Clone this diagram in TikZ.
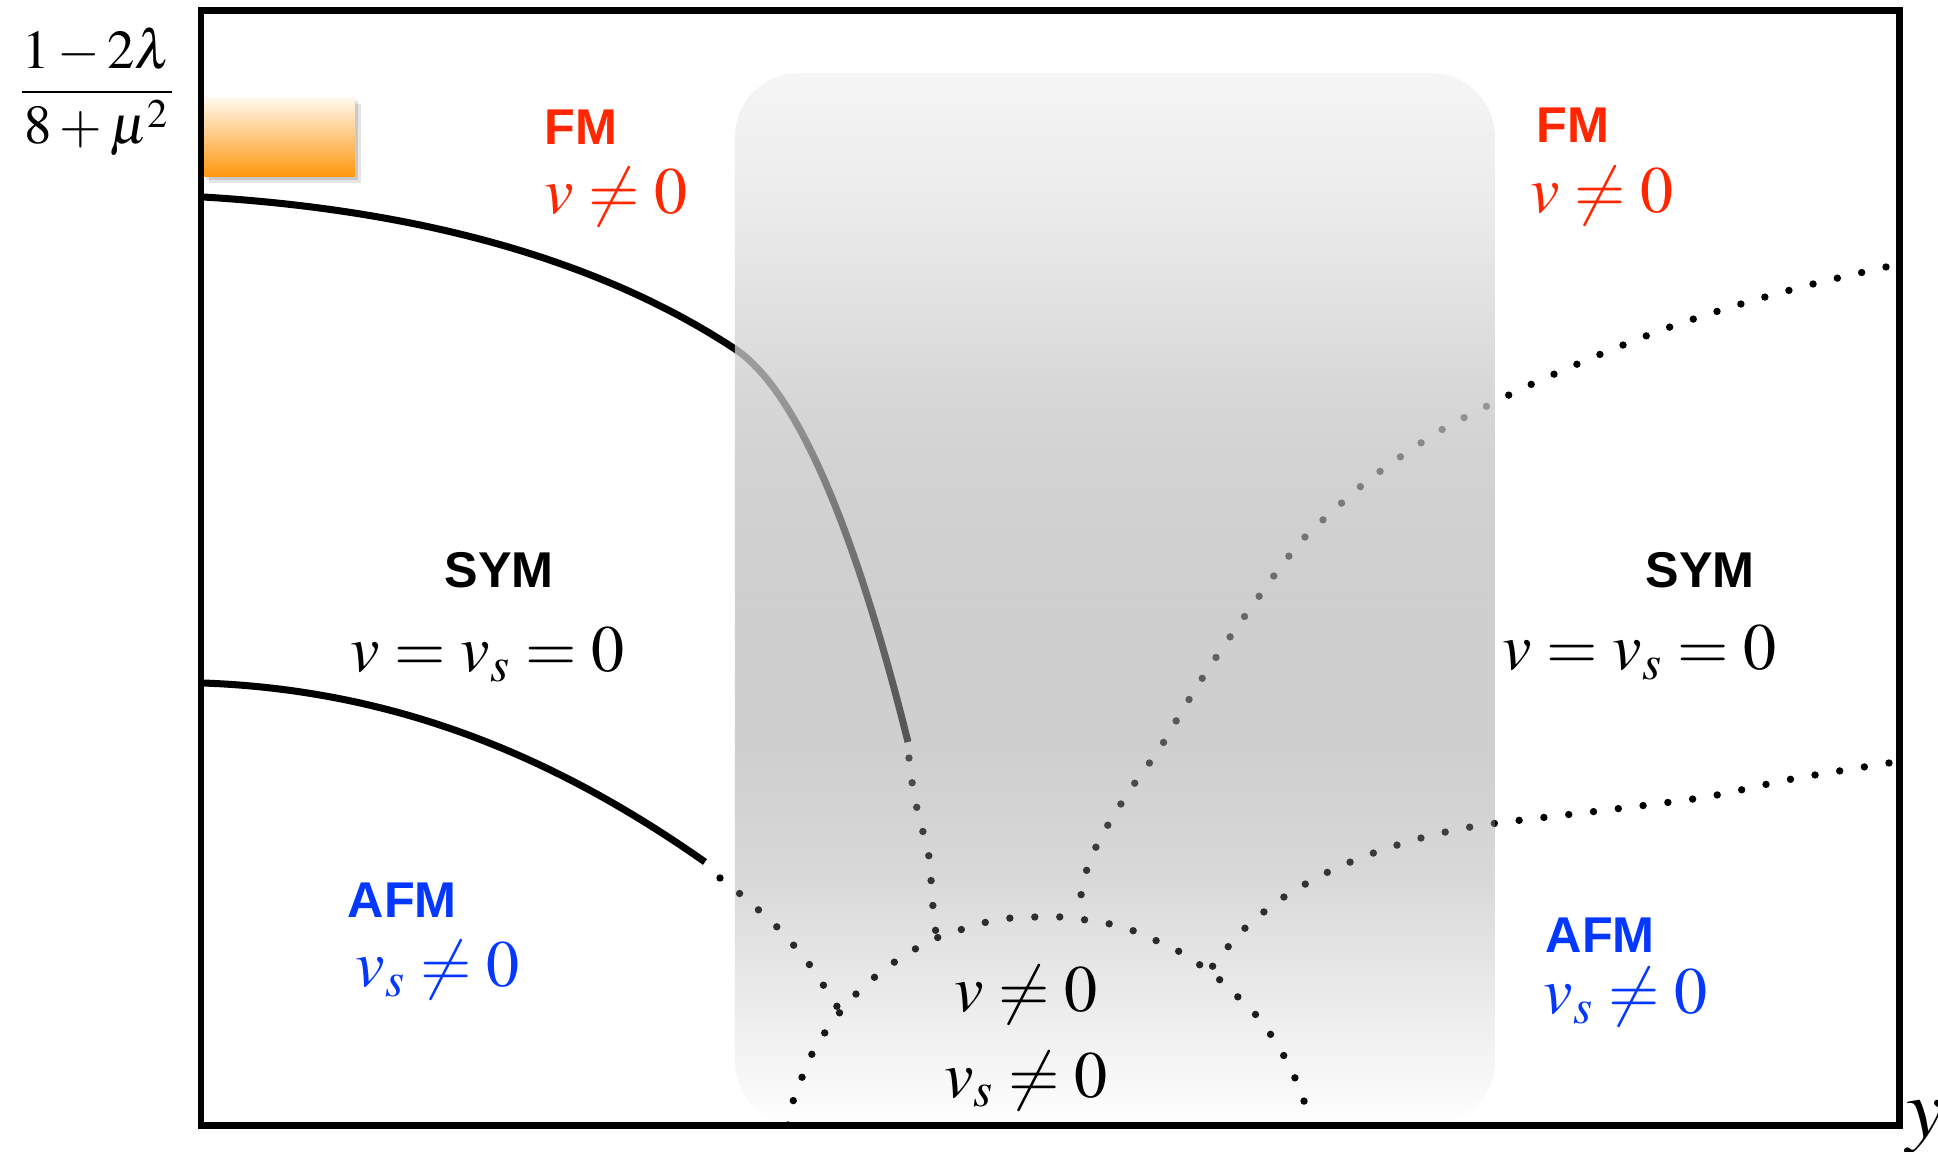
\documentclass[tikz,border=0pt]{standalone}
\usepackage{mathptmx}
\usepackage[no-math]{fontspec}
\setmainfont{Liberation Serif}
\setsansfont{Liberation Sans}
\usetikzlibrary{fadings}
\definecolor{fmred}{RGB}{255,38,0}
\definecolor{afmblue}{RGB}{5,56,255}
\definecolor{orangetop}{RGB}{255,248,238}
\definecolor{orangebot}{RGB}{255,150,12}
\pgfdeclareverticalshading{boxcol}{100bp}{rgb(0bp)=(.62,.62,.62); rgb(25bp)=(.62,.62,.62); rgb(30.9bp)=(.62,.62,.62); rgb(36.6bp)=(.58,.58,.58); rgb(43.3bp)=(.64,.64,.64); rgb(54.7bp)=(.73,.73,.73); rgb(61.8bp)=(.82,.82,.82); rgb(68.9bp)=(.90,.90,.90); rgb(75bp)=(.95,.95,.95); rgb(100bp)=(.95,.95,.95)}
\pgfdeclareverticalshading{boxop}{100bp}{rgb(0bp)=(0,0,0); rgb(25bp)=(0,0,0); rgb(30.9bp)=(.2,.2,.2); rgb(36.6bp)=(.35,.35,.35); rgb(43.3bp)=(.52,.52,.52); rgb(54.7bp)=(.66,.66,.66); rgb(59.5bp)=(.75,.75,.75); rgb(75bp)=(.75,.75,.75); rgb(100bp)=(.75,.75,.75)}
\pgfdeclarefading{boxfade}{\pgfuseshading{boxop}}
\begin{document}
\begin{tikzpicture}[x=0.01cm, y=-0.01cm,
  framebox/.style={line width=1.8pt},
  solidline/.style={line width=2pt},
  dotline/.style={line width=2.1pt, line cap=round, dash pattern=on 0pt off 7.1pt},
  phase/.style={font=\sffamily\bfseries\fontsize{14.3}{16}\selectfont, inner sep=0pt},
  eq/.style={font=\fontsize{18.8}{22}\selectfont, inner sep=0pt}]
\useasboundingbox (0,0) rectangle (1938,1152);
\fill[white] (0,0) rectangle (1938,1152);

% orange marker with soft shadow
\fill[black, opacity=0.10] (209,104) rectangle (361,183);
\fill[black, opacity=0.12] (206,101) rectangle (358,180);
\shade[top color=orangetop, bottom color=orangebot] (203,98) rectangle (355,177);

% solid boundaries
\draw[solidline] (203,197) .. controls (420,210) and (600,260) .. (735,349)
                 .. controls (815,402) and (875,610) .. (908,742);
\draw[solidline] (203,683) .. controls (400,690) and (560,760) .. (705,862);

% dotted boundaries
\draw[dotline] plot[smooth] coordinates {(909,758) (914,795) (922,828) (929,857) (933,907) (936,934)};
\draw[dotline] plot[smooth] coordinates {(720,878) (739,893) (777,927) (809,964) (838,1008)};
\draw[dotline] plot[smooth] coordinates {(788,1125) (794,1098) (803,1075) (813,1052) (826,1031) (841,1011) (857,993) (876,976) (896,961) (917,948) (939,937) (963,929) (987,922) (1011,918) (1036,917) (1061,917) (1086,920) (1110,924) (1134,931) (1157,941) (1180,952) (1200,965) (1220,980) (1238,997) (1256,1015) (1271,1035) (1284,1056) (1295,1078) (1304,1101) (1311,1125)};
\draw[dotline] plot[smooth] coordinates {(1886,267) (1813,284) (1741,304) (1670,327) (1601,354) (1532,384) (1487,406) (1443,429) (1403,455) (1366,482) (1335,509) (1304,538) (1279,569) (1255,602) (1230,637) (1205,674) (1182,711) (1160,748) (1130,790) (1105,830) (1090,860) (1083,885) (1077,918)};
\draw[dotline] plot[smooth] coordinates {(1889,763) (1792,779) (1706,797) (1607,810) (1483,825) (1421,838) (1368,855) (1324,874) (1281,899) (1242,931) (1212,967)};

% translucent grey band
\shade[shading=boxcol, path fading=boxfade, fit fading=false,
  fading transform={shift={(1115,599)}, xscale=4.3087, yscale=5.9641},
  rounded corners=18pt] (735,73) rectangle (1495,1125);

% frame
\draw[framebox] (201,10.5) rectangle (1899.5,1125.5);

% axis labels
\node[font=\fontsize{15.6}{18}\selectfont, inner sep=0pt] (ylabel) at (97,92) {$\displaystyle\frac{1-2\lambda}{8+\mu^2}$};
\node[font=\fontsize{24}{28}\selectfont, inner sep=0pt, anchor=base west] (xlabel) at (1906,1138) {$y$};

% phase labels
\node[phase, text=fmred, anchor=west] (fmL) at (544,127) {FM};
\node[eq, text=fmred, anchor=base west] (fmLeq) at (544,214) {$v\neq0$};
\node[phase, text=fmred, anchor=west] (fmR) at (1536,125) {FM};
\node[eq, text=fmred, anchor=base west] (fmReq) at (1530,213) {$v\neq0$};

\node[phase] (symL) at (499,570) {SYM};
\node[eq, anchor=base west] (symLeq) at (350,672) {$v=v_s=0$};
\node[phase] (symR) at (1700,570) {SYM};
\node[eq, anchor=base west] (symReq) at (1502,670) {$v=v_s=0$};

\node[phase, text=afmblue, anchor=west] (afmL) at (347,900) {AFM};
\node[eq, text=afmblue, anchor=base west] (afmLeq) at (355,987) {$v_s\neq0$};
\node[phase, text=afmblue, anchor=west] (afmR) at (1545,935) {AFM};
\node[eq, text=afmblue, anchor=base west] (afmReq) at (1543,1014) {$v_s\neq0$};

\node[eq, anchor=base] (mix1) at (1026,1012) {$v\neq0$};
\node[eq, anchor=base] (mix2) at (1026,1097) {$v_s\neq0$};
\end{tikzpicture}
\end{document}
